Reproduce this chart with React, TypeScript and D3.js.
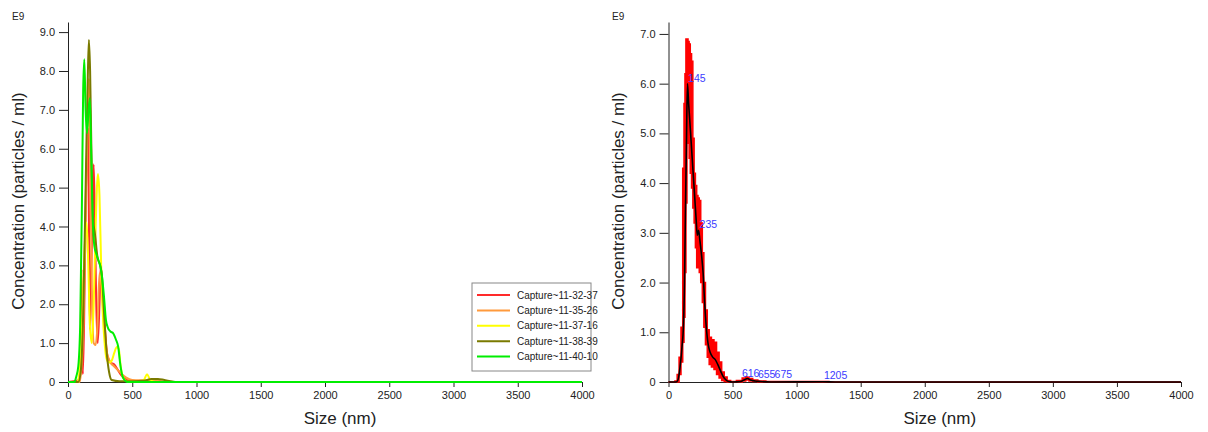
import { useEffect, useRef } from "react";
import * as d3 from "d3";

// left panel: five captures
const seriesNames = ["Capture~11-32-37", "Capture~11-35-26", "Capture~11-37-16", "Capture~11-38-39", "Capture~11-40-10"];
const seriesColors = ["#ff2a2a", "#ff9a3c", "#ffff00", "#7a7a00", "#00ee00"];

const redSizes = [0, 95, 105, 115, 125, 140, 150, 156, 163, 171, 185, 200, 210, 220, 231, 245, 255, 265, 285, 305, 330, 360, 390, 420, 460, 500, 4000];
const redValues = [0, 0.05, 2.9, 0.2, 1.5, 5.0, 6.0, 6.5, 4.0, 1.35, 3.5, 5.6, 4.0, 2.0, 1.0, 2.0, 3.0, 2.5, 1.5, 0.7, 0.5, 0.45, 0.3, 0.15, 0.05, 0, 0];

const orangeSizes = [0, 90, 100, 120, 140, 155, 163, 172, 185, 200, 215, 230, 245, 260, 280, 300, 330, 360, 390, 420, 450, 500, 600, 700, 800, 4000];
const orangeValues = [0, 0, 0.2, 1.5, 4.5, 7.0, 7.8, 6.0, 2.5, 1.0, 0.95, 1.5, 2.8, 2.5, 1.5, 0.8, 0.5, 0.4, 0.3, 0.2, 0.12, 0.05, 0.04, 0.03, 0, 0];

const yellowSizes = [0, 70, 90, 110, 130, 145, 158, 170, 185, 200, 215, 233, 245, 258, 270, 285, 300, 320, 340, 360, 380, 395, 410, 430, 460, 550, 590, 615, 640, 680, 4000];
const yellowValues = [0, 0, 0.3, 1.5, 3.5, 4.1, 3.0, 1.5, 1.0, 2.0, 4.0, 5.35, 4.8, 3.0, 1.8, 1.0, 0.6, 0.5, 0.55, 0.75, 0.9, 0.85, 0.4, 0.1, 0.02, 0.01, 0.05, 0.2, 0.05, 0, 0];

const oliveSizes = [0, 80, 100, 120, 140, 155, 163, 172, 182, 195, 210, 230, 250, 265, 280, 300, 320, 340, 400, 500, 600, 650, 700, 750, 800, 850, 4000];
const oliveValues = [0, 0, 0.3, 2.0, 5.5, 8.0, 8.8, 8.0, 6.0, 4.2, 3.8, 3.2, 3.0, 2.7, 1.8, 0.8, 0.25, 0.05, 0.02, 0.02, 0.04, 0.08, 0.08, 0.05, 0.02, 0, 0];

const greenSizes = [0, 50, 65, 80, 95, 108, 118, 127, 137, 148, 160, 170, 180, 192, 205, 220, 235, 250, 265, 280, 295, 310, 330, 352, 372, 391, 405, 420, 440, 460, 4000];
const greenValues = [0, 0, 0.15, 0.4, 1.5, 4.5, 7.5, 8.3, 7.0, 6.4, 7.0, 7.3, 6.0, 4.2, 3.5, 3.3, 3.15, 3.0, 2.7, 2.2, 1.6, 1.4, 1.3, 1.25, 1.1, 0.9, 0.5, 0.2, 0.05, 0, 0];

const seriesSizes = [redSizes, orangeSizes, yellowSizes, oliveSizes, greenSizes];
const seriesValues = [redValues, orangeValues, yellowValues, oliveValues, greenValues];

// right panel: mean with error band
const meanSizes = [0, 40, 60, 75, 90, 105, 117, 125, 132, 140, 148, 157, 165, 175, 185, 195, 205, 215, 225, 235, 245, 258, 270, 282, 295, 310, 325, 345, 365, 385, 405, 425, 445, 470, 500, 560, 590, 616, 640, 675, 720, 800, 1205, 1300, 4000];
const meanValues = [0, 0, 0, 0.05, 0.3, 0.7, 1.15, 2.0, 3.4, 4.8, 6.0, 5.6, 5.3, 4.9, 4.5, 4.1, 3.7, 3.3, 2.95, 3.05, 2.85, 2.55, 2.2, 1.6, 1.1, 0.75, 0.6, 0.5, 0.45, 0.35, 0.23, 0.12, 0.05, 0.01, 0, 0.01, 0.04, 0.07, 0.04, 0.02, 0.01, 0, 0.005, 0, 0];
const upperValues = [0, 0, 0.02, 0.15, 0.5, 1.1, 4.3, 5.6, 6.2, 6.9, 6.9, 6.85, 6.8, 6.6, 6.45, 4.9, 4.2, 3.95, 3.75, 3.7, 3.65, 3.2, 2.6, 2.0, 1.45, 1.05, 0.9, 0.85, 0.8, 0.6, 0.4, 0.2, 0.1, 0.03, 0.01, 0.03, 0.08, 0.1, 0.07, 0.04, 0.02, 0.01, 0.01, 0, 0];
const lowerValues = [0, 0, 0, 0, 0.15, 0.4, 0.8, 1.3, 2.2, 3.6, 5.2, 4.8, 4.5, 4.2, 3.9, 3.5, 3.2, 2.7, 2.3, 2.3, 2.2, 2.0, 1.6, 1.1, 0.75, 0.5, 0.35, 0.3, 0.25, 0.15, 0.08, 0.03, 0.01, 0, 0, 0, 0.02, 0.04, 0.02, 0.01, 0, 0, 0, 0, 0];

const peakLabels = ["145", "235", "616", "655", "675", "1205"];
const peakLabelSizes = [145, 235, 565, 690, 820, 1205];
const peakLabelValues = [6.0, 3.05, 0.07, 0.04, 0.04, 0.03];

const xTicks = [0, 500, 1000, 1500, 2000, 2500, 3000, 3500, 4000];
const leftYTicks = [0, 1, 2, 3, 4, 5, 6, 7, 8, 9];
const rightYTicks = [0, 1, 2, 3, 4, 5, 6, 7];

const FONT = "'Liberation Sans', Arial, sans-serif";

const drawAxes = (svg, x, y, yTicks, left) => {
  const xg = svg.append("g")
    .attr("transform", `translate(0,${y(0)})`)
    .call(d3.axisBottom(x).tickValues(xTicks).tickSize(5).tickSizeOuter(0).tickPadding(4)
      .tickFormat(d3.format("d")));
  const yg = svg.append("g")
    .attr("transform", `translate(${x(0)},0)`)
    .call(d3.axisLeft(y).tickValues(yTicks).tickSize(9).tickSizeOuter(0).tickPadding(4)
      .tickFormat(d => (d === 0 ? "0" : d3.format(".1f")(d))));
  [xg, yg].forEach(g => {
    g.selectAll("path").attr("stroke", "#222");
    g.selectAll("line").attr("stroke", "#222");
    g.selectAll("text").attr("font-family", FONT).attr("font-size", 11).attr("fill", "#222");
  });

  svg.append("text").attr("x", left + 12).attr("y", 20)
    .attr("font-family", FONT).attr("font-size", 10).attr("fill", "#222").text("E9");

  const midY = 201;
  svg.append("text")
    .attr("transform", `translate(${left + 24},${midY}) rotate(-90)`)
    .attr("text-anchor", "middle").attr("font-family", FONT).attr("font-size", 17).attr("fill", "#222")
    .text("Concentration (particles / ml)");

  svg.append("text")
    .attr("x", (x(0) + x(4000)) / 2 + 15).attr("y", 424)
    .attr("text-anchor", "middle").attr("font-family", FONT).attr("font-size", 17).attr("fill", "#222")
    .text("Size (nm)");
};

const App = () => {
  const svgRef = useRef(null);

  useEffect(() => {
    const svg = d3.select(svgRef.current);
    svg.selectAll("*").remove();

    // ---- left panel
    const xL = d3.scaleLinear().domain([0, 4000]).range([68, 582]);
    const yL = d3.scaleLinear().domain([0, 9.26]).range([382, 22]);
    drawAxes(svg, xL, yL, leftYTicks, 0);

    seriesNames.forEach((name, i) => {
      const pts = seriesSizes[i].map((s, j) => [s, seriesValues[i][j]]);
      const line = d3.line().x(d => xL(d[0])).y(d => yL(d[1])).curve(d3.curveMonotoneX);
      svg.append("path")
        .attr("d", line(pts))
        .attr("fill", "none")
        .attr("stroke", seriesColors[i])
        .attr("stroke-width", 2);
    });

    // legend
    const lg = svg.append("g").attr("transform", "translate(472,283)");
    lg.append("rect").attr("width", 119).attr("height", 88)
      .attr("fill", "#fff").attr("stroke", "#888");
    seriesNames.forEach((name, i) => {
      const yy = 12 + i * 15.4;
      lg.append("line").attr("x1", 5).attr("x2", 38).attr("y1", yy).attr("y2", yy)
        .attr("stroke", seriesColors[i]).attr("stroke-width", 2);
      lg.append("text").attr("x", 45).attr("y", yy + 3.5)
        .attr("font-family", FONT).attr("font-size", 10).attr("fill", "#222").text(name);
    });

    // ---- right panel
    const xR = d3.scaleLinear().domain([0, 4000]).range([668.5, 1181]);
    const yR = d3.scaleLinear().domain([0, 7.24]).range([382, 22]);
    drawAxes(svg, xR, yR, rightYTicks, 600);

    const band = meanSizes.map((s, j) => ({ s, lo: lowerValues[j], hi: upperValues[j], m: meanValues[j] }));
    const area = d3.area().x(d => xR(d.s)).y0(d => yR(d.lo)).y1(d => yR(d.hi)).curve(d3.curveStep);
    svg.append("path").attr("d", area(band)).attr("fill", "#ff0000").attr("stroke", "#ff0000").attr("stroke-width", 1.5);

    const meanLine = d3.line().x(d => xR(d.s)).y(d => yR(d.m)).curve(d3.curveMonotoneX);
    svg.append("path").attr("d", meanLine(band)).attr("fill", "none")
      .attr("stroke", "#000").attr("stroke-width", 1.6);

    peakLabels.forEach((lab, i) => {
      svg.append("text")
        .attr("x", xR(peakLabelSizes[i]) + 1)
        .attr("y", yR(peakLabelValues[i]) - 2)
        .attr("font-family", FONT).attr("font-size", 10.5).attr("fill", "#3b3bff")
        .text(lab);
    });
  }, []);

  return (
    <svg ref={svgRef} width={1208} height={432}
      style={{ position: "absolute", left: 0, top: 0, background: "#fff" }} />
  );
};

export default App;
